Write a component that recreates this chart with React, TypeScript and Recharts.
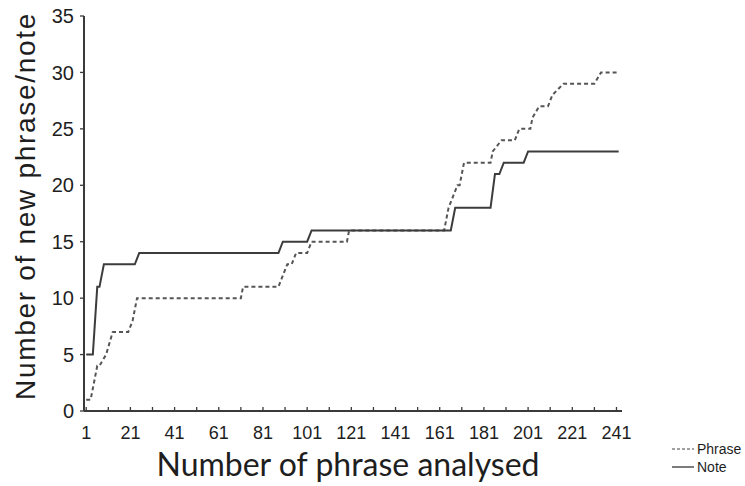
import React from 'react';
import { LineChart, Line, XAxis, YAxis } from 'recharts';

// ---- data ----
const phraseX = [1, 3, 6, 7, 10, 13, 20, 22, 24, 71, 72, 88, 90, 92, 94, 96, 101, 103, 119, 120, 163, 165, 167, 169, 170, 172, 184, 185, 189, 195, 197, 202, 203, 206, 210, 212, 217, 231, 234, 242];
const phraseY = [1, 1, 4, 4, 5, 7, 7, 8, 10, 10, 11, 11, 12, 13, 13, 14, 14, 15, 15, 16, 16, 18, 19, 20, 20, 22, 22, 23, 24, 24, 25, 25, 26, 27, 27, 28, 29, 29, 30, 30];

const noteX = [1, 4, 6, 7, 9, 23, 25, 88, 90, 101, 103, 166, 168, 184, 186, 188, 190, 199, 201, 242];
const noteY = [5, 5, 11, 11, 13, 13, 14, 14, 15, 15, 16, 16, 18, 18, 21, 21, 22, 22, 23, 23];

const xTicks = [1, 11, 21, 31, 41, 51, 61, 71, 81, 91, 101, 111, 121, 131, 141, 151, 161, 171, 181, 191, 201, 211, 221, 231, 241];
const xLabelTicks = [1, 21, 41, 61, 81, 101, 121, 141, 161, 181, 201, 221, 241];
const yTicks = [0, 5, 10, 15, 20, 25, 30, 35];

const seriesNames = ['Phrase', 'Note'];
const xTitle = 'Number of phrase analysed';
const yTitle = 'Number of new phrase/note';

const phraseData = phraseX.map((x, i) => ({ x, y: phraseY[i] }));
const noteData = noteX.map((x, i) => ({ x, y: noteY[i] }));

const AXIS = '#3a3a3a';
const TEXT = '#1e1e1e';

const XTick = (props: any) => {
  const { x, y, payload } = props;
  const show = xLabelTicks.includes(payload.value);
  return (
    <g>
      <line x1={x} x2={x} y1={y} y2={y - 4} stroke={AXIS} strokeWidth={1.3} />
      {show && (
        <text x={x} y={y + 28} textAnchor="middle" fontSize={18} fontFamily="Liberation Sans, Arial, sans-serif" fill={TEXT}>
          {payload.value}
        </text>
      )}
    </g>
  );
};

const YTitle = () => (
  <text
    x={35}
    y={206}
    transform="rotate(-90, 35, 206)"
    textAnchor="middle"
    fontSize={28}
    letterSpacing={1.7}
    fontFamily="Liberation Sans, Arial, sans-serif"
    fill={TEXT}
  >
    {yTitle}
  </text>
);

const XTitle = () => (
  <text x={348} y={476} textAnchor="middle" fontSize={32} fontFamily="Lato, sans-serif" fill={TEXT}>
    {xTitle}
  </text>
);

const LegendBox = () => (
  <svg width={75} height={40} style={{ position: 'absolute', left: 670, top: 438, display: 'block' }}>
    <line x1={2} x2={24} y1={11} y2={11} stroke="#444" strokeWidth={1.2} strokeDasharray="3 2" />
    <text x={27} y={16} fontSize={14} fontFamily="Liberation Sans, Arial, sans-serif" fill={TEXT}>{seriesNames[0]}</text>
    <line x1={2} x2={24} y1={29} y2={29} stroke="#444" strokeWidth={1.4} />
    <text x={27} y={34} fontSize={14} fontFamily="Liberation Sans, Arial, sans-serif" fill={TEXT}>{seriesNames[1]}</text>
  </svg>
);

export default function App() {
  return (
    <div style={{ position: 'absolute', left: 0, top: 0, width: 745, height: 486, background: '#fff' }}>
      <LineChart width={745} height={486} margin={{ top: 16, right: 123, bottom: 0, left: 0 }}>
        <XAxis
          dataKey="x"
          type="number"
          domain={[0, 243.5]}
          ticks={xTicks}
          interval={0}
          tickSize={0}
          tickMargin={0}
          tick={<XTick />}
          height={75}
          axisLine={{ stroke: AXIS, strokeWidth: 2 }}
          tickLine={false}
          allowDataOverflow
          label={<XTitle />}
        />
        <YAxis
          type="number"
          domain={[0, 35]}
          ticks={yTicks}
          interval={0}
          width={84}
          tickSize={4}
          tickMargin={6}
          axisLine={{ stroke: AXIS, strokeWidth: 2 }}
          tickLine={{ stroke: AXIS, strokeWidth: 1.3 }}
          tick={{ fontSize: 20, fill: TEXT, fontFamily: 'Liberation Sans, Arial, sans-serif' }}
          label={<YTitle />}
        />
        <Line
          data={phraseData}
          dataKey="y"
          name={seriesNames[0]}
          type="linear"
          stroke="#555"
          strokeWidth={2}
          strokeDasharray="4 3"
          dot={false}
          isAnimationActive={false}
        />
        <Line
          data={noteData}
          dataKey="y"
          name={seriesNames[1]}
          type="linear"
          stroke="#3c3c3c"
          strokeWidth={2}
          dot={false}
          isAnimationActive={false}
        />
      </LineChart>
      <LegendBox />
    </div>
  );
}
